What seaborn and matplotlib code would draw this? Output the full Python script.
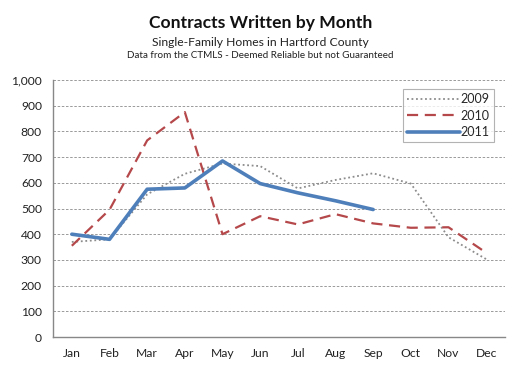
import matplotlib
matplotlib.use("Agg")
import matplotlib.pyplot as plt
import seaborn as sns
import pandas as pd
from matplotlib.ticker import FixedLocator, FuncFormatter
from matplotlib.lines import Line2D

months = ["Jan", "Feb", "Mar", "Apr", "May", "Jun", "Jul", "Aug", "Sep", "Oct", "Nov", "Dec"]
v2009 = [370, 380, 555, 635, 675, 665, 578, 611, 637, 597, 388, 303]
v2010 = [355, 495, 765, 875, 400, 470, 438, 478, 442, 425, 427, 328]
v2011 = [400, 380, 575, 580, 685, 597, 561, 530, 496]
years = ["2009", "2010", "2011"]

rows = []
for y, vals in zip(years, [v2009, v2010, v2011]):
    for m, v in zip(months, vals):
        rows.append({"Month": m, "Year": y, "Contracts": v})
df = pd.DataFrame(rows)

sns.set_style("white")
plt.rcParams["font.family"] = ["Lato", "DejaVu Sans"]

fig = plt.figure(figsize=(5.21, 3.71), dpi=100)
ax = fig.add_axes([53/521, (371-337)/371, (505-53)/521, (337-80)/371])

palette = {"2009": "#8c8c8c", "2010": "#b5484a", "2011": "#4f7fba"}
dashes = {"2009": (1, 1.5), "2010": (5, 3), "2011": ""}
sizes = {"2009": 1.3, "2010": 1.6, "2011": 2.6}

sns.lineplot(data=df, x="Month", y="Contracts", hue="Year", style="Year",
             size="Year", sizes=sizes, palette=palette, dashes=dashes,
             sort=False, ax=ax, legend=False)

ax.set_xlim(-0.5, 11.5)
ax.set_ylim(0, 1000)
ax.set_yticks(range(0, 1001, 100))
ax.yaxis.set_major_formatter(FuncFormatter(lambda v, p: f"{int(v):,}"))
ax.set_xticks(range(12))
ax.set_xticklabels(months)
ax.xaxis.set_minor_locator(FixedLocator([i - 0.5 for i in range(13)]))
ax.tick_params(axis="x", which="major", length=0, labelsize=8.7, pad=8, labelcolor="#222222")
ax.tick_params(axis="x", which="minor", length=4, color="#888888", direction="out")
ax.tick_params(axis="y", which="major", length=4, color="#888888", labelsize=8.7,
               labelcolor="#222222", pad=4)
ax.set_xlabel("")
ax.set_ylabel("")
ax.yaxis.grid(True, linestyle=(0, (3, 2)), color="#8a8a8a", linewidth=0.6)
ax.set_axisbelow(True)
for s in ["top", "right"]:
    ax.spines[s].set_visible(False)
for s in ["left", "bottom"]:
    ax.spines[s].set_color("#888888")
    ax.spines[s].set_linewidth(1.0)

handles = [Line2D([], [], color=palette[y], linewidth=sizes[y],
                  linestyle=(0, dashes[y]) if dashes[y] else "-") for y in years]
leg = ax.legend(handles, years, loc="upper right", bbox_to_anchor=(0.99, 0.99),
                fontsize=9, frameon=True, fancybox=False, edgecolor="#a0a0a0",
                handlelength=4.2, handletextpad=0.1, borderpad=0.35, labelspacing=0.35)
leg.get_frame().set_linewidth(0.8)

fig.text(0.5, 1 - 23/371, "Contracts Written by Month", ha="center", va="center",
         fontsize=12.6, fontweight="bold", color="#111111")
fig.text(0.5, 1 - 42/371, "Single-Family Homes in Hartford County", ha="center", va="center",
         fontsize=8.7, color="#222222")
fig.text(0.5, 1 - 56/371, "Data from the CTMLS - Deemed Reliable but not Guaranteed", ha="center",
         va="center", fontsize=7.1, color="#222222")

fig.savefig("out.png", dpi=100)
